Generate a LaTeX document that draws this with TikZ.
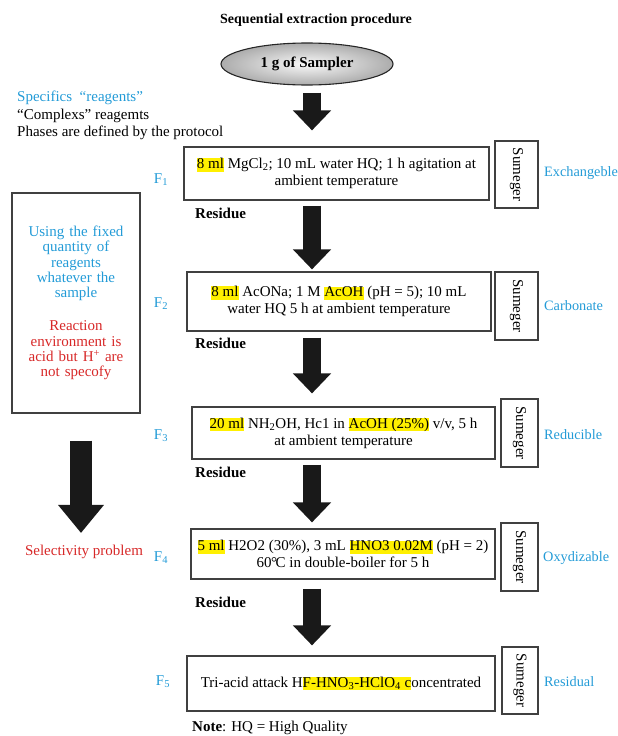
\documentclass[tikz,border=0pt]{standalone}
\usepackage{fontspec}
\setmainfont{Liberation Serif}
\usetikzlibrary{arrows.meta,calc,shapes.geometric}
\definecolor{cblue}{RGB}{35,155,215}
\definecolor{cred}{RGB}{215,40,40}
\definecolor{hly}{RGB}{255,240,0}
\newcommand{\hlt}[1]{{\setlength{\fboxsep}{0pt}\colorbox{hly}{\vphantom{Ag}#1}}}
\begin{document}
\begin{tikzpicture}[x=1pt,y=-1pt,
  every node/.style={font=\fontsize{15}{17}\selectfont, inner sep=0pt},
  stepbox/.style={draw=black!75, line width=1.2pt, align=center},
  sumbox/.style={draw=black!75, line width=1.2pt, rotate=-90},
  phase/.style={text=cblue, anchor=west, font=\fontsize{14.3}{17}\selectfont},
  flab/.style={text=cblue},
  resid/.style={font=\fontsize{15}{17}\selectfont\bfseries, anchor=west},
  blk/.style={line width=18pt, black!90, -{Triangle[width=37pt,length=20pt]}},
]
\useasboundingbox (0,0) rectangle (618,736);

% title and sample
\node[font=\fontsize{14}{17}\selectfont\bfseries] (title) at (316,20) {Sequential extraction procedure};
\node[ellipse, draw=black!85, line width=1.1pt, inner color=gray!5, outer color=gray!65,
      minimum width=172, minimum height=42] (sample) at (307,64) {\bfseries 1 g of Sampler};

% left notes
\node[anchor=west, text=cblue] (spec) at (17,98) {Specifics\ \ “reagents”};
\node[anchor=west] (compl) at (17,116) {“Complexs”\ reagemts};
\node[anchor=west] (phases) at (17,133) {Phases are defined by the protocol};

% step boxes
\node[stepbox, minimum width=305, minimum height=53] (b1) at (336.5,173.5)
  {\hlt{8 ml} MgCl\textsubscript{2}; 10 mL water HQ; 1 h agitation at\\ambient temperature};
\node[stepbox, minimum width=304, minimum height=59] (b2) at (339,301.5)
  {\hlt{8 ml} AcONa; 1 M \hlt{AcOH} (pH = 5); 10 mL\\water HQ 5 h at ambient temperature};
\node[stepbox, minimum width=303, minimum height=52] (b3) at (343.5,433)
  {\hlt{20 ml} NH\textsubscript{2}OH, Hc1 in \hlt{AcOH (25\%)} v/v, 5 h\\at ambient temperature};
\node[stepbox, minimum width=304, minimum height=50] (b4) at (343,554)
  {\hlt{5 ml} H2O2 (30\%), 3 mL \hlt{HNO3 0.02M} (pH = 2)\\60\kern-0.5pt°\kern-1.5pt C in double-boiler for 5 h};
\node[stepbox, minimum width=308, minimum height=55] (b5) at (341,683.5)
  {Tri-acid attack H\hlt{F-HNO\textsubscript{3}-HClO\textsubscript{4} c}oncentrated};

% sumeger boxes
\node[sumbox, minimum width=67, minimum height=43] (s1) at (516.5,174.5) {Sumeger};
\node[sumbox, minimum width=68, minimum height=43] (s2) at (516.5,306) {Sumeger};
\node[sumbox, minimum width=68, minimum height=37] (s3) at (519.5,433) {Sumeger};
\node[sumbox, minimum width=68, minimum height=37] (s4) at (519.5,557) {Sumeger};
\node[sumbox, minimum width=67, minimum height=36] (s5) at (520,680.5) {Sumeger};

% phase labels
\node[phase] (p1) at (544,173) {Exchangeble};
\node[phase] (p2) at (544,306) {Carbonate};
\node[phase] (p3) at (544,435) {Reducible};
\node[phase] (p4) at (543,558) {Oxydizable};
\node[phase] (p5) at (544,682) {Residual};

% fraction labels
\node[flab] (f1) at (161,180) {F\textsubscript{1}};
\node[flab] (f2) at (161,304) {F\textsubscript{2}};
\node[flab] (f3) at (161,436) {F\textsubscript{3}};
\node[flab] (f4) at (161,558) {F\textsubscript{4}};
\node[flab] (f5) at (163,682) {F\textsubscript{5}};

% residue labels
\node[resid] (r1) at (195,213) {Residue};
\node[resid] (r2) at (195,343) {Residue};
\node[resid] (r3) at (195,472) {Residue};
\node[resid] (r4) at (195,602) {Residue};

% note
\node[anchor=west] (note) at (192,728) {\textbf{Note}: HQ = High Quality};

% left box
\node[stepbox, minimum width=128, minimum height=220, text width=118,
      font=\fontsize{15}{15.3}\selectfont] (lb) at (76,303)
  {{\color{cblue}Using the fixed\\quantity of\\reagents\\whatever the\\sample}\\[18pt]
   {\color{cred}Reaction\\environment is\\acid but H\textsuperscript{+} are\\not specofy}};
\node[text=cred] (sel) at (84,552) {Selectivity problem};
\draw[blk, line width=22pt, -{Triangle[width=44pt,length=28pt]}]
  ($(lb.south)+(5,27)$) -- ($(sel.north)+(-3,-12)$);

% main arrows
\coordinate (ax) at (312,0);
\draw[blk] ($(sample.south -| ax)+(0,7)$) -- ($(b1.north -| ax)+(0,-16)$);
\draw[blk] ($(b1.south -| ax)+(0,5)$) -- ($(b2.north -| ax)+(0,-2)$);
\draw[blk] ($(b2.south -| ax)+(0,6)$) -- ($(b3.north -| ax)+(0,-13)$);
\draw[blk] ($(b3.south -| ax)+(0,5)$) -- ($(b4.north -| ax)+(0,-6)$);
\draw[blk] ($(b4.south -| ax)+(0,9)$) -- ($(b5.north -| ax)+(0,-10)$);
\end{tikzpicture}
\end{document}
